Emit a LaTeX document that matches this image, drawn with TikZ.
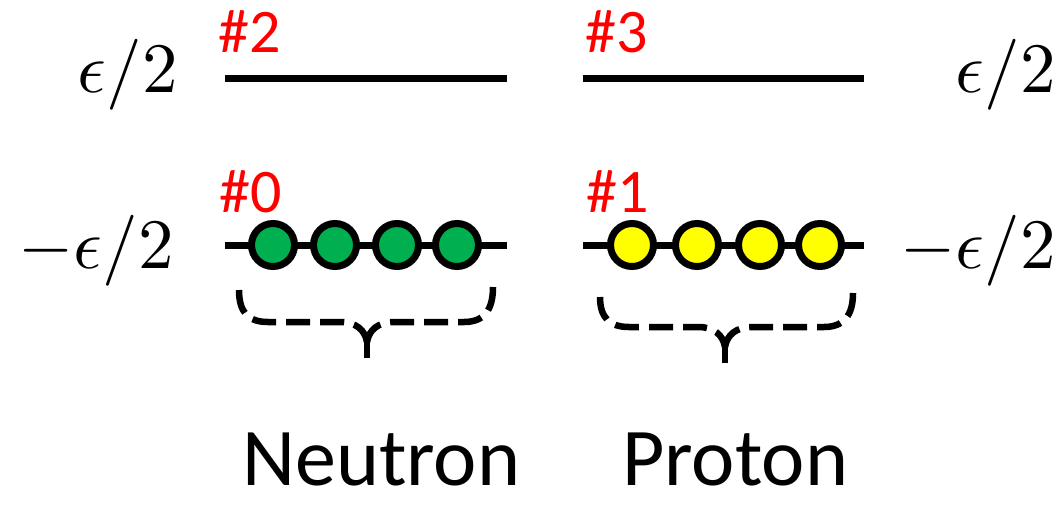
\documentclass[tikz,border=0pt]{standalone}
\usepackage{graphicx}
\usepackage{fontspec}
\newfontfamily\calib{Carlito}
\definecolor{pgreen}{HTML}{00B050}
\definecolor{pyellow}{HTML}{FFFF00}
\definecolor{pred}{HTML}{FF0000}
\newcommand{\bigmath}[1]{\scalebox{7.1}{$#1$}}
\begin{document}
\begin{tikzpicture}[x=1pt,y=-1pt,
  level/.style={line width=7pt},
  particle/.style={circle,draw=black,line width=7pt,minimum size=43pt,inner sep=0pt},
  idlabel/.style={text=pred,font=\calib\fontsize{62}{62}\selectfont,inner sep=0pt,anchor=base west},
  energy/.style={inner sep=0pt},
  partname/.style={font=\calib\fontsize{82}{82}\selectfont,inner sep=0pt,anchor=base west},
  brace/.style={line width=6.5pt,dash pattern=on 24pt off 10pt,line cap=butt},
  bracetail/.style={line width=6.5pt,line cap=butt}]
\useasboundingbox (0,0) rectangle (1064,504);
% levels
\coordinate (a0) at (225,245); \coordinate (b0) at (507,245);
\coordinate (a1) at (583,245); \coordinate (b1) at (864,245);
\coordinate (a2) at (225,78);  \coordinate (b2) at (507,78);
\coordinate (a3) at (583,78);  \coordinate (b3) at (864,78);
\draw[level] (a0) -- (b0);
\draw[level] (a1) -- (b1);
\draw[level] (a2) -- (b2);
\draw[level] (a3) -- (b3);
% particles
\node[particle,fill=pgreen] (n1) at (273,245) {};
\node[particle,fill=pgreen] (n2) at (335,245) {};
\node[particle,fill=pgreen] (n3) at (397,245) {};
\node[particle,fill=pgreen] (n4) at (457,245) {};
\node[particle,fill=pyellow] (p1) at (632,245) {};
\node[particle,fill=pyellow] (p2) at (697,245) {};
\node[particle,fill=pyellow] (p3) at (760,245) {};
\node[particle,fill=pyellow] (p4) at (820,245) {};
% id labels
\node[idlabel] (l2) at (218,52) {\#2};
\node[idlabel] (l3) at (585,52) {\#3};
\node[idlabel] (l0) at (219,212) {\#0};
\node[idlabel] (l1) at (586,212) {\#1};
% energies
\node[energy,anchor=base east] (e2) at (178,92) {\bigmath{\epsilon/2}};
\node[energy,anchor=base east] (e0) at (174,268) {\bigmath{-\epsilon/2}};
\node[energy,anchor=base east] (e3) at (1056,92) {\bigmath{\epsilon/2}};
\node[energy,anchor=base east] (e1) at (1056,268) {\bigmath{-\epsilon/2}};
% braces
\coordinate (c0) at (367,342); \coordinate (t0) at (367,358);
\coordinate (c1) at (725,347); \coordinate (t1) at (725,363);
\draw[brace] (239,290) .. controls (239,312) and (248,322) .. (268,322) -- (340,322)
  .. controls (356,322) and (365,330) .. (c0);
\draw[brace] (493,287) .. controls (493,310) and (484,322) .. (464,322) -- (394,322)
  .. controls (378,322) and (369,330) .. (c0);
\draw[bracetail] (c0) -- (t0);
\draw[brace] (600,297) .. controls (600,317) and (609,327) .. (629,327) -- (698,327)
  .. controls (714,327) and (723,335) .. (c1);
\draw[brace] (853,293) .. controls (853,315) and (844,327) .. (824,327) -- (752,327)
  .. controls (736,327) and (727,335) .. (c1);
\draw[bracetail] (c1) -- (t1);
% names
\node[partname] (nn) at (242,485) {Neutron};
\node[partname] (pp) at (622,485) {Proton};
\end{tikzpicture}
\end{document}
